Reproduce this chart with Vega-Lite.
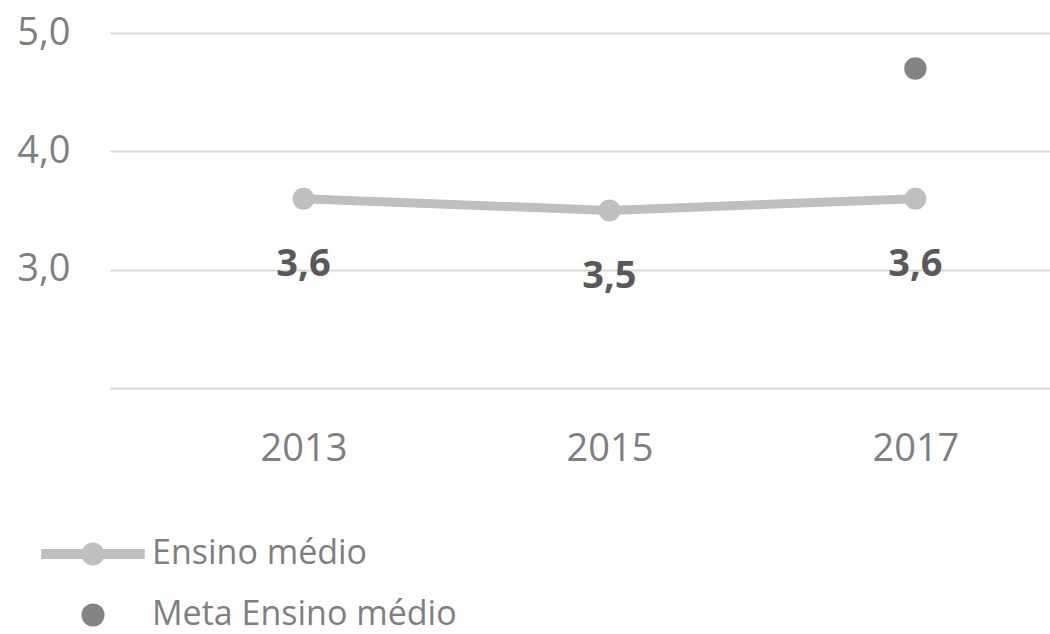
{
  "$schema": "https://vega.github.io/schema/vega-lite/v6.json",
  "width": 940,
  "height": 355,
  "autosize": {"type": "none"},
  "padding": {"left": 110, "top": 33, "right": 0, "bottom": 246},
  "background": "white",
  "config": {
    "view": {"stroke": null},
    "font": "Open Sans",
    "locale": {"number": {"decimal": ",", "thousands": ".", "grouping": [3], "currency": ["R$", ""]}}
  },
  "data": {
    "values": [
      {"ano": 2013, "serie": "Ensino médio", "valor": 3.6},
      {"ano": 2015, "serie": "Ensino médio", "valor": 3.5},
      {"ano": 2017, "serie": "Ensino médio", "valor": 3.6},
      {"ano": 2017, "serie": "Meta Ensino médio", "valor": 4.7}
    ]
  },
  "encoding": {
    "x": {
      "field": "ano",
      "type": "quantitative",
      "scale": {"domain": [2011.735, 2017.88], "nice": false, "zero": false},
      "axis": {
        "values": [2013, 2015, 2017],
        "format": "d",
        "title": null,
        "grid": false,
        "domain": false,
        "ticks": false,
        "labelFont": "Open Sans",
        "labelFontSize": 38,
        "labelColor": "#7f7f7f",
        "labelBaseline": "alphabetic",
        "labelPadding": 72,
        "labelFlush": false
      }
    },
    "y": {
      "field": "valor",
      "type": "quantitative",
      "scale": {"domain": [2, 5], "nice": false, "zero": false},
      "axis": {
        "values": [2, 3, 4, 5],
        "format": ".1f",
        "labelExpr": "datum.value == 2 ? '' : datum.label",
        "title": null,
        "grid": true,
        "gridColor": "#d9d9d9",
        "gridWidth": 2,
        "domain": false,
        "ticks": false,
        "labelFont": "Open Sans",
        "labelFontSize": 38,
        "labelColor": "#7f7f7f",
        "labelPadding": 40
      }
    }
  },
  "layer": [
    {
      "transform": [{"filter": "datum.serie === 'Ensino médio'"}],
      "mark": {"type": "line", "color": "#bfbfbf", "strokeWidth": 9, "strokeJoin": "round", "strokeCap": "round"}
    },
    {
      "transform": [{"filter": "datum.serie === 'Ensino médio'"}],
      "mark": {"type": "point", "filled": true, "opacity": 1, "size": 480, "shape": "circle"},
      "encoding": {
        "color": {
          "field": "serie",
          "type": "nominal",
          "scale": {"domain": ["Ensino médio"], "range": ["#bfbfbf"]},
          "legend": {
            "title": null,
            "orient": "none",
            "legendX": -34,
            "legendY": 504,
            "direction": "vertical",
            "padding": 0,
            "symbolType": "M-4.5,-0.43 H4.5 V0.43 H-4.5 Z M-1,0 A1,1 0 1,1 1,0 A1,1 0 1,1 -1,0 Z",
            "symbolSize": 529,
            "symbolStrokeWidth": 0,
            "labelFont": "Open Sans",
            "labelFontSize": 34,
            "labelColor": "#7f7f7f",
            "labelOffset": 42,
            "labelLimit": 0
          }
        }
      }
    },
    {
      "transform": [{"filter": "datum.serie === 'Meta Ensino médio'"}],
      "mark": {"type": "point", "filled": true, "opacity": 1, "size": 500, "shape": "circle"},
      "encoding": {
        "fill": {
          "field": "serie",
          "type": "nominal",
          "scale": {"domain": ["Meta Ensino médio"], "range": ["#848484"]},
          "legend": {
            "title": null,
            "orient": "none",
            "legendX": -34,
            "legendY": 565,
            "direction": "vertical",
            "padding": 0,
            "symbolType": "circle",
            "symbolSize": 529,
            "symbolStrokeWidth": 0,
            "labelFont": "Open Sans",
            "labelFontSize": 34,
            "labelColor": "#7f7f7f",
            "labelOffset": 42,
            "labelLimit": 0
          }
        }
      }
    },
    {
      "transform": [{"filter": "datum.serie === 'Ensino médio'"}],
      "mark": {"type": "text", "font": "Open Sans", "fontWeight": "bold", "fontSize": 38, "color": "#595959", "baseline": "alphabetic", "dy": 77},
      "encoding": {
        "text": {"field": "valor", "type": "quantitative", "format": ".1f"}
      }
    }
  ]
}
